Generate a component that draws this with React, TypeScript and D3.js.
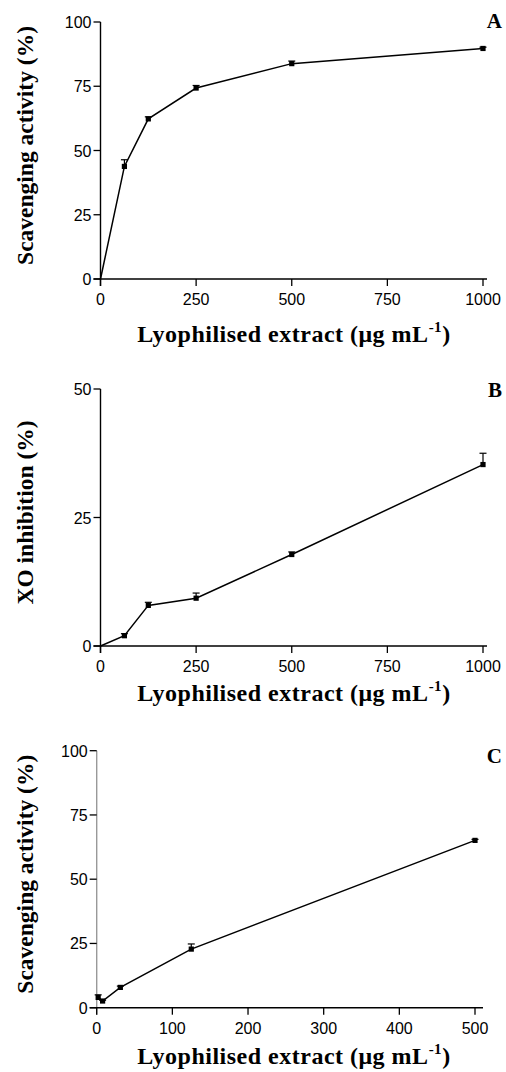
import React from "react";
import * as d3 from "d3";

// Panel A: scavenging activity
const concAB = [0, 62.5, 125, 250, 500, 1000];
const scavA = [0, 43.8, 62.3, 74.3, 83.8, 89.7];
const scavAErr = [0, 2.6, 0.8, 1.0, 1.0, 0.5];
// Panel B: XO inhibition
const xoB = [0, 2.0, 7.9, 9.3, 17.8, 35.3];
const xoBErr = [0, 0.4, 0.6, 1.0, 0.5, 2.2];
// Panel C: scavenging
const concC = [1.95, 7.8, 31.25, 125, 500];
const scavC = [4.0, 2.6, 7.9, 22.8, 65.1];
const scavCErr = [1.0, 0.3, 0.5, 2.0, 0.4];

const ticksXAB = [0, 250, 500, 750, 1000];
const ticksXC = [0, 100, 200, 300, 400, 500];
const ticksY100 = [0, 25, 50, 75, 100];
const ticksY50 = [0, 25, 50];

const SERIF = "'Liberation Serif', 'Times New Roman', serif";
const SANS = "'Liberation Sans', Arial, sans-serif";

type PanelProps = {
  xs: number[];
  ys: number[];
  errs: number[];
  xDomain: [number, number];
  xRange: [number, number];
  axisEnd: number;
  yDomain: [number, number];
  yRange: [number, number];
  xTicks: number[];
  yTicks: number[];
  yTitle: string;
  letter: string;
  letterY: number;
  titleY: number;
  yAxisColor: string;
};

function Panel(p: PanelProps) {
  const x = d3.scaleLinear().domain(p.xDomain).range(p.xRange);
  const y = d3.scaleLinear().domain(p.yDomain).range(p.yRange);
  const x0 = p.xRange[0];
  const y0 = p.yRange[0];
  const pts = p.xs.map((v, i) => [v, p.ys[i], p.errs[i]] as [number, number, number]);
  const line = d3
    .line<[number, number, number]>()
    .x((d) => x(d[0]))
    .y((d) => y(d[1]));
  const yMid = (p.yRange[0] + p.yRange[1]) / 2 - 5;
  const xMid = 294;
  return (
    <g>
      {/* y axis */}
      <line x1={x0} x2={x0} y1={p.yRange[1]} y2={y0 + 7} stroke={p.yAxisColor} strokeWidth={1.4} />
      {p.yTicks.map((t) => (
        <g key={"y" + t}>
          <line x1={x0 - 7} x2={x0} y1={y(t)} y2={y(t)} stroke="#000" strokeWidth={1.3} />
          <text x={x0 - 9} y={y(t) + 6} textAnchor="end" fontFamily={SANS} fontSize={16} fill="#000">
            {t}
          </text>
        </g>
      ))}
      {/* x axis */}
      <line x1={x0 - 7} x2={p.axisEnd} y1={y0} y2={y0} stroke="#000" strokeWidth={1.4} />
      {p.xTicks.map((t) => (
        <g key={"x" + t}>
          <line x1={x(t)} x2={x(t)} y1={y0} y2={y0 + 7} stroke="#000" strokeWidth={1.3} />
          <text x={x(t)} y={y0 + 26} textAnchor="middle" fontFamily={SANS} fontSize={16} fill="#000">
            {t}
          </text>
        </g>
      ))}
      {/* data line */}
      <path d={line(pts) || ""} fill="none" stroke="#000" strokeWidth={1.5} />
      {pts.map((d, i) =>
        d[0] > 0 ? (
          <g key={"p" + i}>
            {d[2] > 0 && (
              <>
                <line x1={x(d[0])} x2={x(d[0])} y1={y(d[1])} y2={y(d[1] + d[2])} stroke="#000" strokeWidth={1.2} />
                <line x1={x(d[0]) - 3.5} x2={x(d[0]) + 3.5} y1={y(d[1] + d[2])} y2={y(d[1] + d[2])} stroke="#000" strokeWidth={1.2} />
              </>
            )}
            <rect x={x(d[0]) - 2.6} y={y(d[1]) - 2.6} width={5.2} height={5.2} fill="#000" />
          </g>
        ) : null
      )}
      {/* panel letter */}
      <text x={502} y={p.letterY} textAnchor="end" fontFamily={SERIF} fontWeight="bold" fontSize={21} fill="#000">
        {p.letter}
      </text>
      {/* axis titles */}
      <text
        x={xMid}
        y={p.titleY}
        textAnchor="middle"
        fontFamily={SERIF}
        fontWeight="bold"
        fontSize={24}
        letterSpacing={0.5}
        fill="#000"
      >
        Lyophilised extract (μg mL
        <tspan fontSize={15} dy={-10}>-1</tspan>
        <tspan dy={10}>)</tspan>
      </text>
      <text
        transform={`translate(33, ${yMid}) rotate(-90)`}
        textAnchor="middle"
        fontFamily={SERIF}
        fontWeight="bold"
        fontSize={23.5}
        fill="#000"
      >
        {p.yTitle}
      </text>
    </g>
  );
}

export default function App() {
  return (
    <svg
      width={506}
      height={1072}
      viewBox="0 0 506 1072"
      style={{ position: "absolute", left: 0, top: 0, background: "#fff" }}
    >
      <rect width={506} height={1072} fill="#fff" />
      <Panel
        xs={concAB}
        ys={scavA}
        errs={scavAErr}
        xDomain={[0, 1000]}
        xRange={[100.5, 483]}
        axisEnd={487}
        yDomain={[0, 100]}
        yRange={[279, 22]}
        xTicks={ticksXAB}
        yTicks={ticksY100}
        yTitle="Scavenging activity (%)"
        letter="A"
        letterY={28}
        titleY={342}
        yAxisColor="#000"
      />
      <Panel
        xs={concAB}
        ys={xoB}
        errs={xoBErr}
        xDomain={[0, 1000]}
        xRange={[100.5, 483]}
        axisEnd={487}
        yDomain={[0, 50]}
        yRange={[646, 389]}
        xTicks={ticksXAB}
        yTicks={ticksY50}
        yTitle="XO inhibition (%)"
        letter="B"
        letterY={397}
        titleY={701}
        yAxisColor="#000"
      />
      <Panel
        xs={concC}
        ys={scavC}
        errs={scavCErr}
        xDomain={[0, 500]}
        xRange={[96.7, 475]}
        axisEnd={483}
        yDomain={[0, 100]}
        yRange={[1007.7, 750.7]}
        xTicks={ticksXC}
        yTicks={ticksY100}
        yTitle="Scavenging activity (%)"
        letter="C"
        letterY={763}
        titleY={1064}
        yAxisColor="#999"
      />
    </svg>
  );
}
